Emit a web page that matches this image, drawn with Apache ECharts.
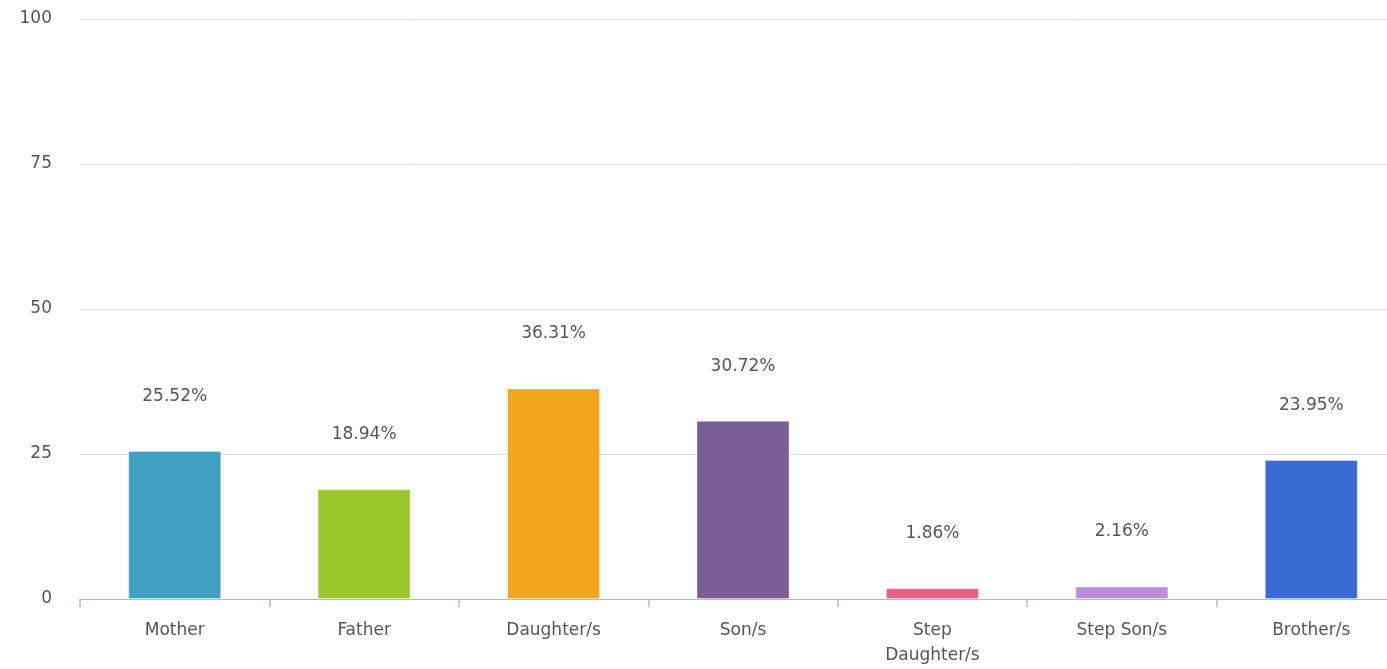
<!DOCTYPE html>
<html>
<head>
<meta charset="utf-8">
<script src="https://cdn.jsdelivr.net/npm/echarts@6/dist/echarts.min.js"></script>
<style>
  html, body { margin: 0; padding: 0; background: #fff; overflow: hidden; }
  /* the original plot runs past the right edge of the picture */
  #chart { width: 1406px; height: 669px; }
</style>
</head>
<body>
<div id="chart"></div>
<script>
const categories = ['Mother', 'Father', 'Daughter/s', 'Son/s', 'Step\nDaughter/s', 'Step Son/s', 'Brother/s'];
const values = [25.52, 18.94, 36.31, 30.72, 1.86, 2.16, 23.95];
const colors = ['#3fa0c1', '#99c72b', '#f3a51c', '#7b5f94', '#ee5e84', '#bb8edb', '#3a6bd2'];
const yTicks = [0, 25, 50, 75, 100];

const chart = echarts.init(document.getElementById('chart'));
chart.setOption({
  animation: false,
  textStyle: { fontFamily: 'DejaVu Sans' },
  grid: { left: 80, right: 0, top: 19, bottom: 70 },
  xAxis: {
    type: 'category',
    data: categories,
    axisLine: { lineStyle: { color: '#a9bdd4', width: 1 } },
    axisTick: { show: true, length: 8, lineStyle: { color: '#a9bdd4', width: 1.5 } },
    axisLabel: { color: '#555', fontSize: 17, margin: 19, lineHeight: 25 }
  },
  yAxis: {
    type: 'value',
    min: yTicks[0],
    max: yTicks[yTicks.length - 1],
    interval: 25,
    axisLine: { show: false },
    axisTick: { show: false },
    axisLabel: { color: '#555', fontSize: 17, margin: 28 },
    splitLine: { lineStyle: { color: '#dcdcdc' } }
  },
  series: [{
    type: 'bar',
    barWidth: 93,
    data: values.map((v, i) => ({ value: v, itemStyle: { color: colors[i] } })),
    itemStyle: { borderColor: 'rgba(255,255,255,0.35)', borderWidth: 1 },
    label: {
      show: true,
      position: 'top',
      distance: 46,
      color: '#555',
      fontSize: 17,
      formatter: p => p.value.toFixed(2) + '%'
    }
  }]
});
</script>
</body>
</html>
